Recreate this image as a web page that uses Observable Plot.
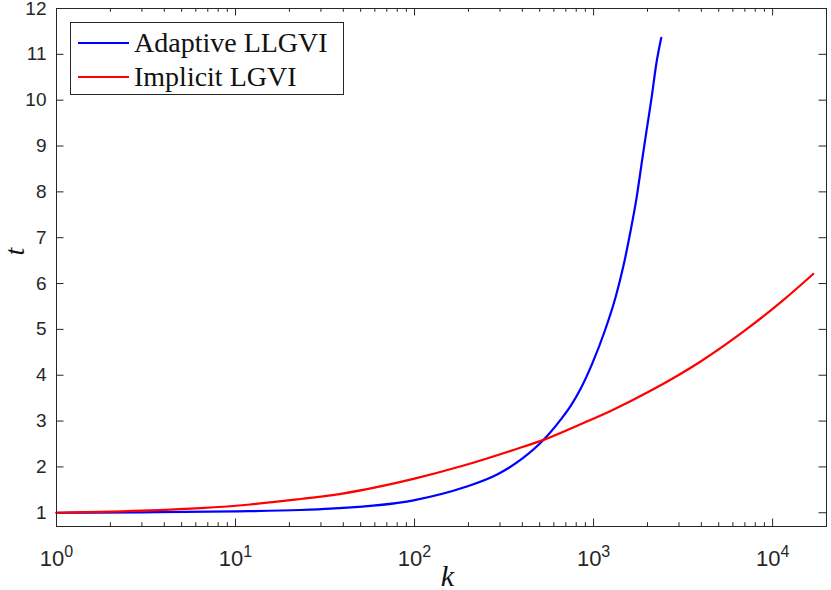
<!DOCTYPE html>
<html>
<head>
<meta charset="utf-8">
<script src="https://cdn.jsdelivr.net/npm/d3@7"></script>
<script src="https://cdn.jsdelivr.net/npm/@observablehq/plot@0.6"></script>
<style>
  html, body { margin: 0; padding: 0; background: #fff; }
  #wrap { position: relative; width: 831px; height: 590px; }
  #legend {
    position: absolute; left: 70px; top: 22px; width: 274px; height: 73px;
    border: 1px solid #262626; background: #fff; box-sizing: border-box;
    font-family: "Liberation Serif", serif; font-size: 28px; color: #111;
  }
  .item { position: absolute; left: 0; height: 30px; display: flex; align-items: center; }
  .item .sw { position: absolute; left: 7px; width: 51px; height: 0; border-top: 2px solid; }
  .item .lb { position: absolute; left: 63px; white-space: nowrap; line-height: 30px; }
</style>
</head>
<body>
<div id="wrap"></div>
<script>
// ---- data ----
const seriesNames = ["Adaptive LLGVI", "Implicit LGVI"];
const seriesColors = ["#0000ff", "#ff0000"];

const adaptiveK = [1, 3, 10, 23, 34, 98.6, 188, 291, 406, 526, 655, 745, 845, 984, 1156, 1327, 1477, 1610, 1740, 1854, 1977, 2110, 2240, 2388];
const adaptiveT = [1.0, 1.01, 1.03, 1.06, 1.09, 1.27, 1.55, 1.84, 2.20, 2.59, 3.03, 3.33, 3.70, 4.26, 4.97, 5.70, 6.43, 7.15, 7.88, 8.61, 9.34, 10.06, 10.79, 11.36];

const implicitK = [1, 3.35, 6.37, 12.1, 23.1, 34, 98.6, 188, 357, 526, 845, 1245, 2080, 3963, 7534, 11560, 16870];
const implicitT = [1.0, 1.05, 1.10, 1.18, 1.30, 1.38, 1.74, 2.03, 2.37, 2.59, 2.93, 3.22, 3.66, 4.30, 5.07, 5.65, 6.21];

const xDomain = [1, 20000];
const yDomain = [0.7, 12];
const xMajorTicks = [1, 10, 100, 1000, 10000];
const xMajorLabels = ["10^0", "10^1", "10^2", "10^3", "10^4"];
const xMinorTicks = [2,3,4,5,6,7,8,9, 20,30,40,50,60,70,80,90, 200,300,400,500,600,700,800,900,
                     2000,3000,4000,5000,6000,7000,8000,9000, 20000];
const yTicks = [1,2,3,4,5,6,7,8,9,10,11,12];
const xLabel = "k";
const yLabel = "t";

// ---- build table ----
const adaptive = adaptiveK.map((k, i) => ({k, t: adaptiveT[i]}));
const implicit = implicitK.map((k, i) => ({k, t: implicitT[i]}));

const W = 831, H = 590;
const mL = 56, mR = 5, mT = 8, mB = 64;
const innerW = W - mL - mR, innerH = H - mT - mB;
const axisColor = "#262626";

const svg = Plot.plot({
  width: W, height: H,
  marginLeft: mL, marginRight: mR, marginTop: mT, marginBottom: mB,
  x: {type: "log", domain: xDomain},
  y: {domain: yDomain},
  style: {fontFamily: "'Liberation Sans', Arial, sans-serif", color: axisColor, background: "#fff", overflow: "visible"},
  marks: [
    // inward ticks
    Plot.ruleY(yTicks, {y: d => d, insetRight: innerW - 7.5, stroke: axisColor, strokeWidth: 1}),
    Plot.ruleY(yTicks, {y: d => d, insetLeft: innerW - 7.5, stroke: axisColor, strokeWidth: 1}),
    Plot.ruleX(xMajorTicks, {x: d => d, insetTop: innerH - 7.5, stroke: axisColor, strokeWidth: 1}),
    Plot.ruleX(xMajorTicks, {x: d => d, insetBottom: innerH - 7.5, stroke: axisColor, strokeWidth: 1}),
    Plot.ruleX(xMinorTicks, {x: d => d, insetTop: innerH - 3.8, stroke: axisColor, strokeWidth: 1}),
    Plot.ruleX(xMinorTicks, {x: d => d, insetBottom: innerH - 3.8, stroke: axisColor, strokeWidth: 1}),
    // series
    Plot.line(adaptive, {x: "k", y: "t", stroke: seriesColors[0], strokeWidth: 2.2, curve: "monotone-x"}),
    Plot.line(implicit, {x: "k", y: "t", stroke: seriesColors[1], strokeWidth: 2.2, curve: "monotone-x"}),
    Plot.frame({stroke: axisColor, strokeWidth: 1}),
    // axes
    Plot.axisY({ticks: yTicks, tickSize: 0, tickPadding: 10, fontSize: 19, label: null, tickFormat: d => String(d)}),
    Plot.axisX({ticks: xMajorTicks, tickSize: 0, tickPadding: 24, fontSize: 22, label: null,
                tickFormat: d => xMajorLabels[xMajorTicks.indexOf(d)]}),
    // axis labels
    Plot.text([xLabel], {text: d => d, frameAnchor: "bottom", dx: 6, dy: 59, lineAnchor: "bottom",
                         fontSize: 30, fontStyle: "italic", fontFamily: "'Liberation Serif', serif", fill: "#111"}),
    Plot.text([yLabel], {text: d => d, frameAnchor: "left", dx: -41, dy: -12, rotate: -90,
                         fontSize: 28, fontStyle: "italic", fontFamily: "'Liberation Serif', serif", fill: "#111"})
  ]
});

// superscript exponents on log tick labels
d3.select(svg).selectAll('g[aria-label="x-axis tick label"] text').each(function() {
  const t = d3.select(this);
  const parts = t.text().split("^");
  t.text(parts[0]);
  t.append("tspan").attr("dy", "-9").attr("font-size", "16").text(parts[1]);
});

const wrap = document.getElementById("wrap");
wrap.appendChild(svg);

// legend
const legend = document.createElement("div");
legend.id = "legend";
seriesNames.forEach((name, i) => {
  const item = document.createElement("div");
  item.className = "item";
  item.style.top = (5 + i * 34) + "px";
  item.style.width = "100%";
  const sw = document.createElement("span");
  sw.className = "sw";
  sw.style.borderTopColor = seriesColors[i];
  const lb = document.createElement("span");
  lb.className = "lb";
  lb.textContent = name;
  item.appendChild(sw);
  item.appendChild(lb);
  legend.appendChild(item);
});
wrap.appendChild(legend);
</script>
</body>
</html>
